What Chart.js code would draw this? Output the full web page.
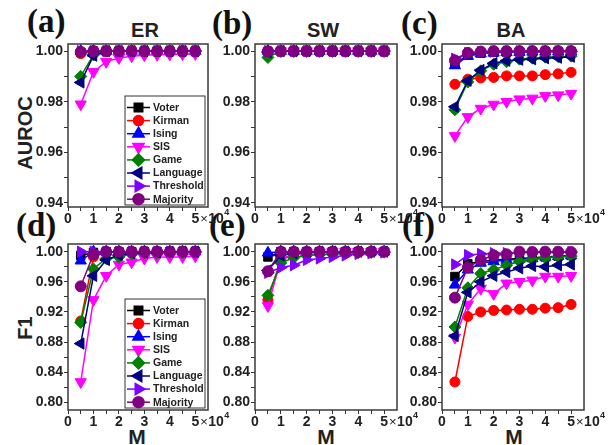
<!DOCTYPE html>
<html>
<head>
<meta charset="utf-8">
<script src="https://cdn.jsdelivr.net/npm/chart.js@4.4.0/dist/chart.umd.min.js"></script>
<style>
  html, body { margin: 0; padding: 0; background: #fff; }
  body { width: 612px; height: 445px; position: relative; overflow: hidden; font-family: 'Liberation Sans', Arial, sans-serif; }
  canvas { position: absolute; }
  .tag { position: absolute; font-family: 'Liberation Serif', 'Times New Roman', serif; font-weight: bold; font-size: 33px; line-height: 33px; color: #111; }
  .ttl { position: absolute; width: 100px; text-align: center; font-weight: bold; font-size: 20px; line-height: 20px; color: #222; }
  .rot { transform: rotate(-90deg); }
</style>
</head>
<body>
<div class="tag" style="left:27px;top:5px">(a)</div>
<div class="tag" style="left:212px;top:7px">(b)</div>
<div class="tag" style="left:401px;top:7px">(c)</div>
<div class="tag" style="left:16px;top:209px">(d)</div>
<div class="tag" style="left:209px;top:209px">(e)</div>
<div class="tag" style="left:402px;top:209px">(f)</div>
<div class="ttl" style="left:95px;top:20px">ER</div>
<div class="ttl" style="left:273px;top:20px">SW</div>
<div class="ttl" style="left:461px;top:20px">BA</div>
<div class="ttl rot" style="left:-25px;top:123px">AUROC</div>
<div class="ttl rot" style="left:-25px;top:318px">F1</div>
<div class="ttl" style="left:87px;top:427px;font-size:21px">M</div>
<div class="ttl" style="left:276px;top:427px;font-size:21px">M</div>
<div class="ttl" style="left:464px;top:427px;font-size:21px">M</div>

<canvas id="pa"></canvas>
<canvas id="pb"></canvas>
<canvas id="pc"></canvas>
<canvas id="pd"></canvas>
<canvas id="pe"></canvas>
<canvas id="pf"></canvas>

<script>
// M values (x 10^4)
const mValues = [0.5, 1, 1.5, 2, 2.5, 3, 3.5, 4, 4.5, 5];
const models = ['Voter', 'Kirman', 'Ising', 'SIS', 'Game', 'Language', 'Threshold', 'Majority'];
const xTicks = [0, 0.5, 1, 1.5, 2, 2.5, 3, 3.5, 4, 4.5, 5];
const yTicksAuroc = [0.94, 0.95, 0.96, 0.97, 0.98, 0.99, 1.00];
const yTicksF1 = [0.80, 0.82, 0.84, 0.86, 0.88, 0.90, 0.92, 0.94, 0.96, 0.98, 1.00];

// rows follow the order of models
const aurocER = [
  [0.9995, 1, 1, 1, 1, 1, 1, 1, 1, 1],
  [0.999, 0.9998, 1, 1, 1, 1, 1, 1, 1, 1],
  [1, 1, 1, 1, 1, 1, 1, 1, 1, 1],
  [0.979, 0.9918, 0.9958, 0.9973, 0.998, 0.9984, 0.9986, 0.9987, 0.9988, 0.9989],
  [0.990, 0.9985, 1, 1, 1, 1, 1, 1, 1, 1],
  [0.9876, 0.9982, 1, 1, 1, 1, 1, 1, 1, 1],
  [1, 1, 1, 1, 1, 1, 1, 1, 1, 1],
  [0.9997, 1, 1, 1, 1, 1, 1, 1, 1, 1]
];
const aurocSW = [
  [0.9998, 1, 1, 1, 1, 1, 1, 1, 1, 1],
  [0.9998, 1, 1, 1, 1, 1, 1, 1, 1, 1],
  [1, 1, 1, 1, 1, 1, 1, 1, 1, 1],
  [0.9995, 1, 1, 1, 1, 1, 1, 1, 1, 1],
  [0.9975, 1, 1, 1, 1, 1, 1, 1, 1, 1],
  [0.9996, 1, 1, 1, 1, 1, 1, 1, 1, 1],
  [1, 1, 1, 1, 1, 1, 1, 1, 1, 1],
  [0.9999, 1, 1, 1, 1, 1, 1, 1, 1, 1]
];
const aurocBA = [
  [0.9948, 0.9985, 0.9992, 0.9995, 0.9996, 0.9997, 0.9997, 0.9998, 0.9998, 0.9998],
  [0.9869, 0.9889, 0.9894, 0.9896, 0.9902, 0.9902, 0.9902, 0.9907, 0.991, 0.9916],
  [0.9943, 0.998, 0.999, 0.9993, 0.9995, 0.9996, 0.9997, 0.9997, 0.9998, 0.9998],
  [0.9665, 0.974, 0.9773, 0.9789, 0.980, 0.981, 0.9813, 0.9823, 0.9826, 0.9832],
  [0.9768, 0.9878, 0.9922, 0.9948, 0.9958, 0.9968, 0.9972, 0.9976, 0.9978, 0.998],
  [0.978, 0.9883, 0.9925, 0.9952, 0.9962, 0.9966, 0.9968, 0.9972, 0.9974, 0.9978],
  [0.997, 0.9992, 0.9996, 0.9998, 0.9998, 0.9999, 0.9999, 0.9999, 0.9999, 0.9999],
  [0.9963, 0.9993, 0.9998, 1, 1, 1, 1, 1, 1, 1]
];
const f1ER = [
  [0.995, 0.999, 1, 1, 1, 1, 1, 1, 1, 1],
  [0.908, 0.993, 0.9995, 1, 1, 1, 1, 1, 1, 1],
  [0.988, 1, 1, 1, 1, 1, 1, 1, 1, 1],
  [0.827, 0.936, 0.968, 0.983, 0.986, 0.991, 0.993, 0.993, 0.993, 0.994],
  [0.906, 0.977, 0.991, 0.993, 0.997, 0.998, 0.998, 0.999, 0.999, 0.999],
  [0.878, 0.968, 0.989, 0.9955, 0.998, 0.999, 0.999, 1, 1, 1],
  [1, 1, 1, 1, 1, 1, 1, 1, 1, 1],
  [0.954, 0.9965, 1, 1, 1, 1, 1, 1, 1, 1]
];
const f1SW = [
  [0.993, 1, 1, 1, 1, 1, 1, 1, 1, 1],
  [0.936, 0.990, 0.997, 0.999, 1, 1, 1, 1, 1, 1],
  [0.9985, 1, 1, 1, 1, 1, 1, 1, 1, 1],
  [0.928, 0.989, 0.996, 0.998, 0.999, 1, 1, 1, 1, 1],
  [0.942, 0.985, 0.992, 0.995, 0.996, 0.997, 0.998, 0.999, 0.999, 1],
  [0.975, 0.995, 0.998, 0.999, 1, 1, 1, 1, 1, 1],
  [0.972, 0.979, 0.982, 0.989, 0.991, 0.993, 0.995, 0.997, 0.998, 0.999],
  [0.974, 1, 1, 1, 1, 1, 1, 1, 1, 1]
];
const f1BA = [
  [0.967, 0.984, 0.987, 0.989, 0.990, 0.991, 0.992, 0.993, 0.994, 0.995],
  [0.827, 0.914, 0.920, 0.922, 0.9226, 0.9235, 0.9235, 0.925, 0.9257, 0.930],
  [0.956, 0.976, 0.985, 0.987, 0.989, 0.990, 0.991, 0.993, 0.994, 0.995],
  [0.886, 0.930, 0.951, 0.944, 0.958, 0.960, 0.962, 0.967, 0.967, 0.968],
  [0.900, 0.952, 0.971, 0.976, 0.982, 0.987, 0.990, 0.992, 0.993, 0.994],
  [0.888, 0.946, 0.960, 0.968, 0.973, 0.978, 0.981, 0.980, 0.982, 0.983],
  [0.983, 0.9955, 0.997, 0.998, 0.998, 0.999, 0.999, 0.999, 0.999, 0.9995],
  [0.939, 0.979, 0.989, 0.995, 0.9965, 1.0, 0.9995, 1.0, 1.0, 0.9995]
];

const colors = ['#000000', '#ff0000', '#0000ff', '#ff00ff', '#008000', '#000080', '#8000ff', '#800080'];
const styles = ['rect', 'circle', 'triangle', 'triangle', 'rectRot', 'triangle', 'triangle', 'circle'];
const rotations = [0, 0, 0, 180, 0, 270, 90, 0];
const radii = [6, 5, 6.5, 6.5, 6, 6.5, 6.5, 5.5];

const FONT = "'Liberation Sans', Arial, sans-serif";

const frame = {
  id: 'frame',
  afterDraw(chart) {
    const { ctx, chartArea: a } = chart;
    ctx.save();
    ctx.strokeStyle = '#3a3a3a';
    ctx.lineWidth = 1.5;
    ctx.strokeRect(a.left, a.top, a.right - a.left, a.bottom - a.top);
    ctx.restore();
  }
};

// "x10^4" multiplier after the last x label
const multiplier = {
  id: 'multiplier',
  afterDraw(chart) {
    const { ctx, chartArea: a } = chart;
    const x = chart.scales.x.getPixelForValue(5) + 5;
    const y = a.bottom + 12;
    ctx.save();
    ctx.fillStyle = '#222';
    ctx.textBaseline = 'middle';
    ctx.textAlign = 'left';
    ctx.font = '13px ' + FONT;
    ctx.fillText('\u00d7', x, y);
    ctx.font = 'bold 14px ' + FONT;
    ctx.fillText('10', x + 8, y);
    ctx.font = 'bold 9px ' + FONT;
    ctx.fillText('4', x + 24, y - 6);
    ctx.restore();
  }
};

const boxLegend = {
  id: 'boxLegend',
  afterDraw(chart, args, opts) {
    if (!opts.show) return;
    const { ctx, chartArea: a } = chart;
    const w = 80, h = 109;
    const left = a.right - 3 - w, top = a.bottom - 2 - h;
    ctx.save();
    ctx.fillStyle = '#fff';
    ctx.fillRect(left, top, w, h);
    ctx.strokeStyle = '#333';
    ctx.lineWidth = 1;
    ctx.strokeRect(left, top, w, h);
    chart.data.datasets.forEach((ds, i) => {
      const y = top + 11.5 + i * 13.1;
      ctx.strokeStyle = ds.borderColor;
      ctx.lineWidth = 1.5;
      ctx.beginPath();
      ctx.moveTo(left + 2, y);
      ctx.lineTo(left + 25, y);
      ctx.stroke();
      ctx.fillStyle = ds.backgroundColor;
      Chart.helpers.drawPoint(ctx, {
        pointStyle: ds.pointStyle, rotation: ds.rotation, radius: ds.pointRadius, borderWidth: 1
      }, left + 13.5, y);
      ctx.fill();
      ctx.fillStyle = '#222';
      ctx.font = 'bold 10.5px ' + FONT;
      ctx.textBaseline = 'middle';
      ctx.textAlign = 'left';
      ctx.fillText(ds.label, left + 28, y + 0.5);
    });
    ctx.restore();
  }
};

const isMajor = (v, per) => Math.abs(v * per - Math.round(v * per)) < 1e-6;

function makePanel(id, L, T, W, H, series, yMin, yMax, yTicks, per, legend) {
  const PAD_T = 12, PAD_R = 44, YW = 68, XH = 30, PAD_B = 4;
  const el = document.getElementById(id);
  const cw = YW + W + PAD_R, chh = PAD_T + H + XH + PAD_B;
  el.style.left = (L - YW) + 'px';
  el.style.top = (T - PAD_T) + 'px';
  el.width = cw; el.height = chh;
  el.style.width = cw + 'px'; el.style.height = chh + 'px';

  const datasets = series.map((vals, i) => ({
    label: models[i],
    data: mValues.map((x, k) => ({ x, y: vals[k] })),
    borderColor: colors[i],
    backgroundColor: colors[i],
    pointBackgroundColor: colors[i],
    pointBorderColor: colors[i],
    pointStyle: styles[i],
    rotation: rotations[i],
    pointRadius: radii[i],
    pointBorderWidth: 1,
    borderWidth: 1.5,
    tension: 0,
    order: 7 - i,
    clip: false
  }));

  const tickFont = { family: FONT, size: 14, weight: 'bold' };
  const grid = { display: true, drawOnChartArea: false, drawTicks: true, tickLength: 4, color: '#333', lineWidth: 1 };

  return new Chart(el, {
    type: 'line',
    data: { datasets },
    options: {
      responsive: false, animation: false,
      layout: { padding: { top: PAD_T, right: PAD_R, bottom: PAD_B, left: 0 } },
      plugins: { legend: { display: false }, tooltip: { enabled: false }, boxLegend: { show: legend } },
      scales: {
        x: {
          type: 'linear', min: 0, max: 5.5,
          grid, border: { display: false },
          afterBuildTicks: s => { s.ticks = xTicks.map(v => ({ value: v })); },
          afterFit: s => { s.height = XH; },
          ticks: { font: tickFont, color: '#222', padding: 0, autoSkip: false, maxRotation: 0,
            callback: v => Number.isInteger(v) ? String(v) : '' }
        },
        y: {
          type: 'linear', min: yMin, max: yMax,
          grid, border: { display: false },
          afterBuildTicks: s => { s.ticks = yTicks.map(v => ({ value: v })); },
          afterFit: s => { s.width = YW; },
          ticks: { font: tickFont, color: '#222', padding: 1, autoSkip: false,
            callback: v => isMajor(v, per) ? v.toFixed(2) : '' }
        }
      }
    },
    plugins: [frame, multiplier, boxLegend]
  });
}

makePanel('pa', 68, 44, 140, 163, aurocER, 0.9384, 1.0028, yTicksAuroc, 50, true);
makePanel('pb', 255, 44, 142, 163, aurocSW, 0.9384, 1.0028, yTicksAuroc, 50, false);
makePanel('pc', 442, 44, 142, 163, aurocBA, 0.9384, 1.0028, yTicksAuroc, 50, false);
makePanel('pd', 68, 244, 140, 166, f1ER, 0.7898, 1.0102, yTicksF1, 25, true);
makePanel('pe', 255, 244, 142, 166, f1SW, 0.7898, 1.0102, yTicksF1, 25, false);
makePanel('pf', 442, 244, 142, 166, f1BA, 0.7898, 1.0102, yTicksF1, 25, false);
</script>
</body>
</html>
